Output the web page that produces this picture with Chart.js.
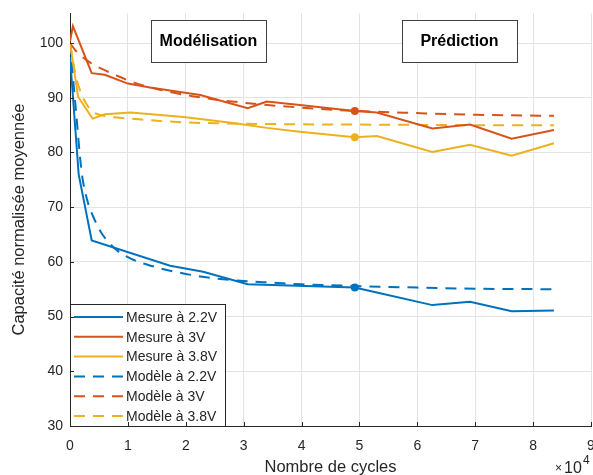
<!DOCTYPE html>
<html>
<head>
  <title>Capacité normalisée</title>
<script src="https://cdn.jsdelivr.net/npm/chart.js"></script>
<meta name="viewport" content="width=device-width, initial-scale=1.0">
</head>
<style>
body {
  margin: 0;
  background: #fff;
}
</style>
<body>
<canvas id="chart" width="593" height="475"></canvas>
</body>
<script>
// cycles (x10^4) and normalised capacity (%)
const mes22X = [0, 0.15, 0.375, 1.73, 2.3, 3.07, 4.92, 5.3, 6.26, 6.91, 7.63, 8.36];
const mes22Y = [97.5, 76, 63.9, 59.3, 58.2, 55.9, 55.3, 54.4, 52.1, 52.7, 51.0, 51.1];
const mes3X = [0, 0.05, 0.375, 0.6, 1.0, 1.38, 2.25, 3.07, 3.4, 3.97, 4.92, 5.3, 6.26, 6.91, 7.63, 8.36];
const mes3Y = [100.3, 103.1, 94.5, 94.2, 92.6, 91.9, 90.5, 88.1, 89.3, 88.7, 87.6, 87.3, 84.4, 85.1, 82.5, 84.1];
const mes38X = [0, 0.14, 0.39, 0.6, 1.05, 1.96, 2.82, 3.4, 3.97, 4.92, 5.3, 6.26, 6.91, 7.63, 8.36];
const mes38Y = [100, 90.2, 86.2, 87.0, 87.3, 86.5, 85.4, 84.5, 83.8, 82.8, 83.0, 80.1, 81.4, 79.4, 81.7];

const modX = [0, 0.1, 0.2, 0.3, 0.4, 0.55, 0.8, 1.05, 1.5, 2.0, 2.5, 3.0, 3.5, 4.0, 4.92, 6.0, 7.0, 8.36];
const mod22Y = [100, 88, 76.5, 71.2, 68.3, 65.2, 62.2, 60.6, 59.0, 57.8, 57.0, 56.5, 56.2, 55.9, 55.6, 55.3, 55.1, 55.0];
const mod3Y = [100, 98.6, 97.6, 96.8, 96.1, 95.3, 94.1, 93.0, 91.6, 90.5, 89.7, 89.1, 88.6, 88.2, 87.6, 87.2, 86.9, 86.7];
const mod38Y = [100, 94, 90.6, 88.6, 87.4, 86.8, 86.4, 86.2, 85.8, 85.5, 85.35, 85.25, 85.2, 85.15, 85.1, 85.05, 85.0, 85.0];

const xTicks = [0, 1, 2, 3, 4, 5, 6, 7, 8, 9];
const yTicks = [30, 40, 50, 60, 70, 80, 90, 100];
const markX = 4.92;

const labels = ['Mesure à 2.2V', 'Mesure à 3V', 'Mesure à 3.8V', 'Modèle à 2.2V', 'Modèle à 3V', 'Modèle à 3.8V'];
const blue = '#0072BD', orange = '#D95319', yellow = '#EDB120';
const dash = [11, 8];
const FONT = '"Liberation Sans", Arial, Helvetica, sans-serif';

function pts(xs, ys) {
  return xs.map((x, i) => ({x: x, y: ys[i]}));
}

function measure(label, xs, ys, color) {
  return {
    label: label,
    data: pts(xs, ys),
    borderColor: color,
    backgroundColor: color,
    borderWidth: 2,
    pointRadius: xs.map(x => x === markX ? 4 : 0),
    pointBorderWidth: 0,
    tension: 0
  };
}

function model(label, ys, color) {
  return {
    label: label,
    data: pts(modX, ys),
    borderColor: color,
    borderWidth: 2,
    borderDash: dash,
    pointRadius: 0,
    cubicInterpolationMode: 'monotone'
  };
}

const data = {
  datasets: [
    measure(labels[0], mes22X, mes22Y, blue),
    measure(labels[1], mes3X, mes3Y, orange),
    measure(labels[2], mes38X, mes38Y, yellow),
    model(labels[3], mod22Y, blue),
    model(labels[4], mod3Y, orange),
    model(labels[5], mod38Y, yellow)
  ]
};

// text boxes, legend and x10^4 multiplier
const extras = {
  id: 'extras',
  afterDraw(chart) {
    const ctx = chart.ctx;
    const x = chart.scales.x;
    const area = chart.chartArea;
    ctx.save();

    // annotation boxes
    ctx.font = 'bold 16px ' + FONT;
    ctx.textAlign = 'center';
    ctx.textBaseline = 'middle';
    [['Modélisation', 151, 20, 115, 42], ['Prédiction', 402, 20, 115, 42]].forEach(b => {
      ctx.fillStyle = '#fff';
      ctx.fillRect(b[1], b[2], b[3], b[4]);
      ctx.strokeStyle = '#404040';
      ctx.lineWidth = 1;
      ctx.strokeRect(b[1] + 0.5, b[2] + 0.5, b[3], b[4]);
      ctx.fillStyle = '#000';
      ctx.fillText(b[0], b[1] + b[3] / 2, b[2] + b[4] / 2 + 1);
    });

    // legend
    const lx = area.left, ly = 304, lw = 155, lh = area.bottom - ly;
    ctx.fillStyle = '#fff';
    ctx.fillRect(lx, ly, lw, lh);
    ctx.strokeStyle = '#262626';
    ctx.lineWidth = 1;
    ctx.strokeRect(lx + 0.5, ly + 0.5, lw, lh);
    ctx.font = '14px ' + FONT;
    ctx.textAlign = 'left';
    chart.data.datasets.forEach((ds, i) => {
      const yy = ly + 13 + i * 19.8;
      ctx.strokeStyle = ds.borderColor;
      ctx.lineWidth = 2;
      ctx.setLineDash(ds.borderDash || []);
      ctx.beginPath();
      ctx.moveTo(lx + 4, yy);
      ctx.lineTo(lx + 53, yy);
      ctx.stroke();
      ctx.setLineDash([]);
      ctx.fillStyle = '#262626';
      ctx.fillText(ds.label, lx + 56, yy + 1);
    });

    // inward tick marks
    ctx.strokeStyle = '#262626';
    ctx.lineWidth = 1;
    const ys = chart.scales.y;
    xTicks.forEach(t => {
      const px = Math.round(x.getPixelForValue(t)) + 0.5;
      ctx.beginPath();
      ctx.moveTo(px, area.bottom);
      ctx.lineTo(px, area.bottom - 4);
      ctx.stroke();
    });
    yTicks.forEach(t => {
      const py = Math.round(ys.getPixelForValue(t)) + 0.5;
      ctx.beginPath();
      ctx.moveTo(area.left, py);
      ctx.lineTo(area.left + 4, py);
      ctx.stroke();
    });

    // multiplier
    ctx.fillStyle = '#262626';
    ctx.textAlign = 'left';
    ctx.textBaseline = 'alphabetic';
    ctx.font = '12px ' + FONT;
    ctx.fillText('×', 555, 472);
    ctx.font = '16px ' + FONT;
    ctx.fillText('10', 564, 473);
    ctx.font = '12px ' + FONT;
    ctx.fillText('4', 583, 464);
    ctx.restore();
  }
};

const chartEl = document.getElementById('chart');
const chart = new Chart(chartEl, {
  type: 'line',
  data: data,
  plugins: [extras],
  options: {
    responsive: false,
    animation: false,
    maintainAspectRatio: false,
    layout: {padding: {top: 13, right: 2, left: 0, bottom: 0}},
    plugins: {
      legend: {display: false},
      tooltip: {enabled: false}
    },
    scales: {
      x: {
        type: 'linear',
        min: 0,
        max: 9,
        afterFit(s) {
          s.height = 49;
          s.paddingRight = 0;
          s.paddingLeft = 0;
        },
        afterBuildTicks(s) { s.ticks = xTicks.map(v => ({value: v})); },
        grid: {color: '#e3e3e3', drawTicks: false},
        border: {color: '#262626', width: 1},
        ticks: {
          color: '#262626',
          font: {family: FONT, size: 14},
          padding: 12
        },
        title: {
          display: true,
          text: 'Nombre de cycles',
          color: '#262626',
          font: {family: FONT, size: 16.5, lineHeight: 0.8},
          padding: {top: 0, bottom: 0.5}
        }
      },
      y: {
        min: 30,
        max: 105.5,
        afterFit(s) {
          s.width = 70;
          s.paddingTop = 0;
          s.paddingBottom = 0;
        },
        afterBuildTicks(s) { s.ticks = yTicks.map(v => ({value: v})); },
        grid: {color: '#e3e3e3', drawTicks: false},
        border: {color: '#262626', width: 1},
        ticks: {
          color: '#262626',
          font: {family: FONT, size: 14},
          padding: 7
        },
        title: {
          display: true,
          text: 'Capacité normalisée moyennée',
          color: '#262626',
          font: {family: FONT, size: 16.5, lineHeight: 0.8},
          padding: {top: 12.4, bottom: 0}
        }
      }
    }
  }
});
</script>
</html>
